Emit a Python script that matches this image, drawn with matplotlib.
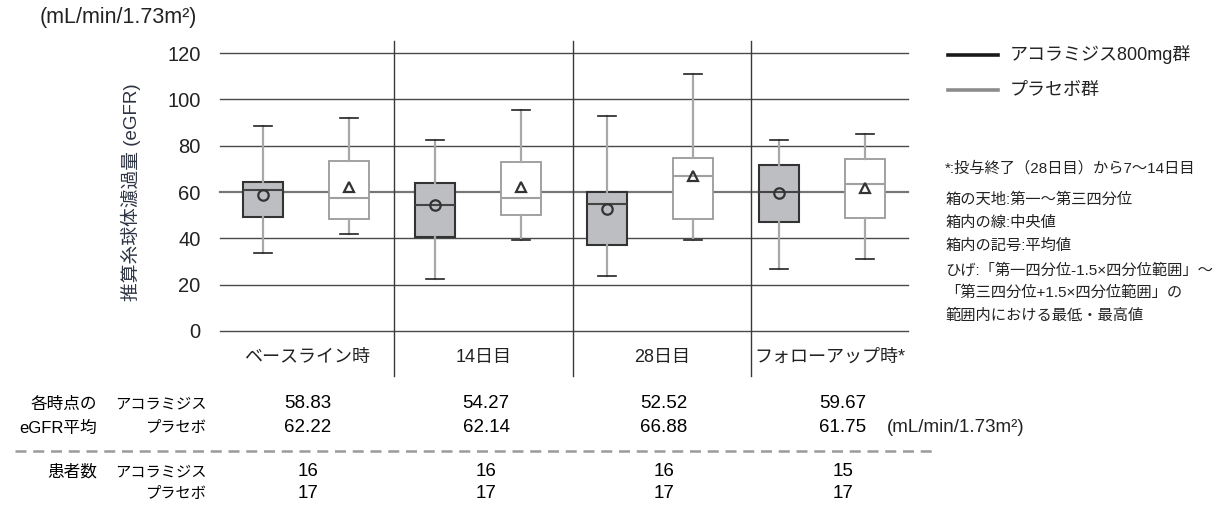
import matplotlib
matplotlib.use("Agg")
import matplotlib.pyplot as plt
from matplotlib.lines import Line2D

plt.rcParams['font.family'] = ['Liberation Sans', 'Noto Sans CJK JP']

# --- data -------------------------------------------------------------
timepoints = ["ベースライン時", "14日目", "28日目", "フォローアップ時*"]
groups = ["アコラミジス", "プラセボ"]

# box statistics per time point (eGFR, mL/min/1.73m²)
acor_whislo = [33.5, 22.4, 23.6, 26.6]
acor_q1     = [49.3, 40.6, 37.0, 46.9]
acor_med    = [60.9, 54.4, 54.7, 60.0]
acor_q3     = [64.3, 63.9, 59.9, 71.6]
acor_whishi = [88.6, 82.4, 92.9, 82.3]
acor_mean   = [58.83, 54.27, 52.52, 59.67]

plac_whislo = [41.7, 39.1, 39.1, 30.9]
plac_q1     = [48.2, 49.9, 48.2, 48.6]
plac_med    = [57.5, 57.4, 67.0, 63.6]
plac_q3     = [73.2, 72.9, 74.7, 74.2]
plac_whishi = [92.1, 95.2, 111.1, 84.9]
plac_mean   = [62.22, 62.14, 66.88, 61.75]

acor_n = [16, 16, 16, 15]
plac_n = [17, 17, 17, 17]

yticks = [0, 20, 40, 60, 80, 100, 120]

# --- figure -----------------------------------------------------------
W, H = 1221, 505
fig = plt.figure(figsize=(W / 100, H / 100), dpi=100)
ax = fig.add_axes([220 / W, 1 - 331 / H, 688 / W, 290 / H])
ax.set_xlim(-0.5, 7.5)
ax.set_ylim(0, 125.2)
for s in ax.spines.values():
    s.set_visible(False)

for t in yticks:
    ax.axhline(t, color="#777777" if t == 60 else "#4a4a4a",
               lw=1.6 if t == 60 else 1.0, zorder=0, clip_on=False)

ax.set_yticks(yticks)
ax.set_yticklabels([str(t) for t in yticks], fontsize=14.5, color="#222222")
ax.tick_params(axis="y", length=0, pad=14)
ax.set_xticks([])

# vertical separators between time points
bounds = [-0.5, 1.52, 3.6, 5.68, 7.5]
for b in bounds[1:-1]:
    ax.plot([b, b], [-19.4, 125.2], color="#3a3a3a", lw=1.0,
            clip_on=False, zorder=0)

# category labels
for i, name in enumerate(timepoints):
    mid = (bounds[i] + bounds[i + 1]) / 2
    ax.text(mid, -11.3, name, ha="center", va="center", fontsize=13,
            color="#222222")


def stats(lo, q1, med, q3, hi, mean):
    return [dict(whislo=a, q1=b, med=c, q3=d, whishi=e, mean=f, fliers=[])
            for a, b, c, d, e, f in zip(lo, q1, med, q3, hi, mean)]


acor_stats = stats(acor_whislo, acor_q1, acor_med, acor_q3, acor_whishi, acor_mean)
plac_stats = stats(plac_whislo, plac_q1, plac_med, plac_q3, plac_whishi, plac_mean)

acor_pos = [2 * i for i in range(4)]
plac_pos = [2 * i + 1 for i in range(4)]

ax.bxp(acor_stats, positions=acor_pos, widths=0.465, capwidths=0.21,
       showmeans=True, showfliers=False, patch_artist=True,
       boxprops=dict(facecolor="#bdbec2", edgecolor="#333333", lw=1.5),
       medianprops=dict(color="#444444", lw=1.5),
       whiskerprops=dict(color="#a8a8a8", lw=1.6),
       capprops=dict(color="#222222", lw=1.2),
       meanprops=dict(marker="o", markerfacecolor="none",
                      markeredgecolor="#333333", markersize=7.5, mew=1.6),
       manage_ticks=False, zorder=3)

ax.bxp(plac_stats, positions=plac_pos, widths=0.465, capwidths=0.21,
       showmeans=True, showfliers=False, patch_artist=True,
       boxprops=dict(facecolor="white", edgecolor="#9a9a9a", lw=1.3),
       medianprops=dict(color="#a0a0a0", lw=1.5),
       whiskerprops=dict(color="#a8a8a8", lw=1.6),
       capprops=dict(color="#222222", lw=1.2),
       meanprops=dict(marker="^", markerfacecolor="none",
                      markeredgecolor="#333333", markersize=7.5, mew=1.6),
       manage_ticks=False, zorder=3)

# units and axis title
fig.text(40 / W, 1 - 18 / H, "(mL/min/1.73m²)", fontsize=15.5,
         ha="left", va="center", color="#222222")
fig.text(131 / W, 1 - 192 / H, "推算糸球体濾過量 (eGFR)", rotation=90,
         fontsize=13.5, ha="center", va="center", color="#2e3444")

# legend
for y, c, lab in [(55, "#1a1a1a", "アコラミジス800mg群"),
                  (90, "#8c8c8c", "プラセボ群")]:
    fig.add_artist(Line2D([948 / W, 998 / W], [1 - y / H, 1 - y / H],
                          color=c, lw=2.6, transform=fig.transFigure))
    fig.text(1010 / W, 1 - y / H, lab, fontsize=13, ha="left",
             va="center", color="#222222")

# notes
notes = [
    (168, "*:投与終了（28日目）から7〜14日目"),
    (200, "箱の天地:第一〜第三四分位"),
    (223, "箱内の線:中央値"),
    (246, "箱内の記号:平均値"),
    (270, "ひげ:「第一四分位-1.5×四分位範囲」〜"),
    (293, "「第三四分位+1.5×四分位範囲」の"),
    (316, "範囲内における最低・最高値"),
]
for y, s in notes:
    fig.text(945 / W, 1 - y / H, s, fontsize=11, ha="left",
             va="center", color="#222222")

# summary table
col_x = [308, 486, 664, 843]
row_y = [404, 428, 472, 494]
fs_lab = 12
fs_grp = 11
fs_val = 13.5
fig.text(97 / W, 1 - row_y[0] / H, "各時点の", fontsize=fs_lab, ha="right", va="center")
fig.text(97 / W, 1 - row_y[1] / H, "eGFR平均", fontsize=fs_lab, ha="right", va="center")
fig.text(97 / W, 1 - row_y[2] / H, "患者数", fontsize=fs_lab, ha="right", va="center")
for y in (row_y[0], row_y[2]):
    fig.text(207 / W, 1 - y / H, groups[0], fontsize=fs_grp, ha="right", va="center")
for y in (row_y[1], row_y[3]):
    fig.text(207 / W, 1 - y / H, groups[1], fontsize=fs_grp, ha="right", va="center")

for x, a, p, na, npl in zip(col_x, acor_mean, plac_mean, acor_n, plac_n):
    fig.text(x / W, 1 - row_y[0] / H, f"{a:.2f}", fontsize=fs_val, ha="center", va="center")
    fig.text(x / W, 1 - row_y[1] / H, f"{p:.2f}", fontsize=fs_val, ha="center", va="center")
    fig.text(x / W, 1 - row_y[2] / H, f"{na}", fontsize=fs_val, ha="center", va="center")
    fig.text(x / W, 1 - row_y[3] / H, f"{npl}", fontsize=fs_val, ha="center", va="center")

fig.text(887 / W, 1 - row_y[1] / H, "(mL/min/1.73m²)", fontsize=fs_val, ha="left",
         va="center", color="#222222")

fig.add_artist(Line2D([15 / W, 937 / W], [1 - 451 / H, 1 - 451 / H],
                      color="#9a9a9a", lw=1.8, ls=(0, (4.4, 2.7)),
                      transform=fig.transFigure))

fig.savefig("out.png", dpi=100)
